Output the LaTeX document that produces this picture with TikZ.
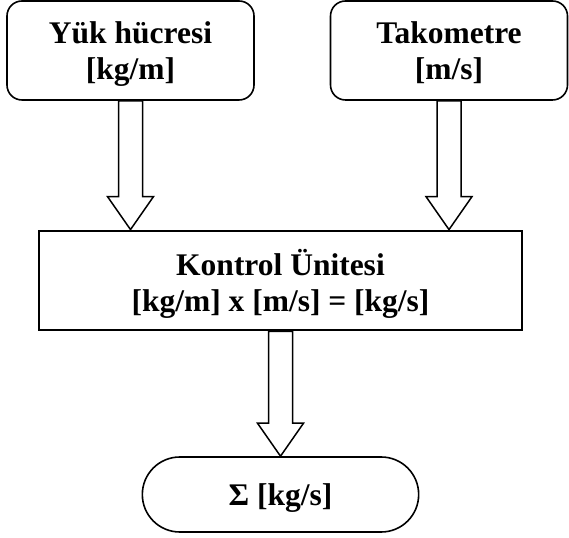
\documentclass[tikz,border=0pt]{standalone}
\usepackage{fontspec}
\setmainfont{Liberation Serif}
\usetikzlibrary{shapes.misc,calc}

\newcommand{\blockarrow}[2]{%
\draw [hollowarrow] let \p1=(#1), \p2=(#2) in
  (\x1-12pt,\y1) -- (\x1-12pt,\y2+33pt) -- (\x1-23pt,\y2+33pt) -- (\x2,\y2)
  -- (\x1+23pt,\y2+33pt) -- (\x1+12pt,\y2+33pt) -- (\x1+12pt,\y1) -- cycle;}

\begin{document}
\begin{tikzpicture}[x=1pt,y=1pt,
  every node/.style={font=\fontsize{31.5}{36}\selectfont\bfseries, align=center, text depth=0pt},
  sensorbox/.style={draw, line width=1.6pt, rounded corners=15pt, minimum width=#1, minimum height=99pt},
  unitbox/.style={draw, line width=2.8pt, minimum width=483pt, minimum height=99pt},
  resultbox/.style={draw, line width=1.6pt, rounded rectangle, minimum width=283pt, minimum height=75pt},
  hollowarrow/.style={draw, line width=1.5pt, fill=white}]
\useasboundingbox (0,0) rectangle (569,537);
\node [sensorbox=247pt] (load) at (130.5,486.5) {Yük hücresi\\{}[kg/m]};
\node [sensorbox=237pt] (tacho) at (449,486.5) {Takometre\\{}[m/s]};
\node [unitbox] (ctrl) at (280.5,256.5) {Kontrol Ünitesi\\{}[kg/m] x [m/s] = [kg/s]};
\node [resultbox] (sum) at (280.5,42.5) {Σ [kg/s]};
% connectors
\coordinate (lin) at (load.south |- ctrl.north);
\coordinate (tin) at (tacho.south |- ctrl.north);
\blockarrow{load.south}{lin}
\blockarrow{tacho.south}{tin}
\blockarrow{ctrl.south}{sum.north}
\end{tikzpicture}
\end{document}
